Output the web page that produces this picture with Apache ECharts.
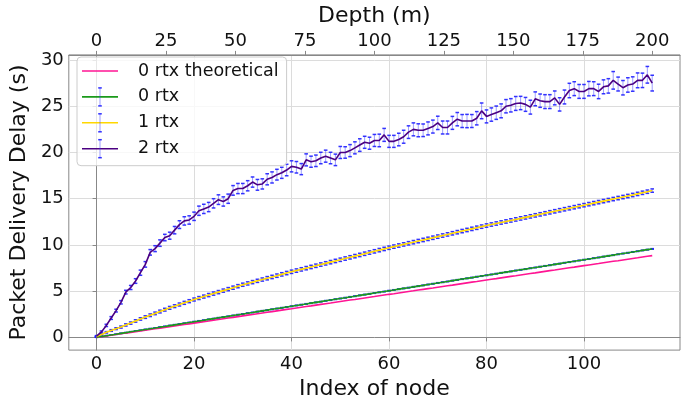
<!DOCTYPE html>
<html><head><meta charset="utf-8">
<script src="https://cdn.jsdelivr.net/npm/echarts@6/dist/echarts.min.js"></script>
<style>html,body{margin:0;padding:0;background:#fff}#c{width:696px;height:405px}</style>
</head><body><div id="c"></div>
<script>
// ---- data ----
const seriesNames = ['0 rtx theoretical', '0 rtx', '1 rtx', '2 rtx'];
const indexTicks = [0, 20, 40, 60, 80, 100];
const depthTicks = [0, 25, 50, 75, 100, 125, 150, 175, 200];
const delayTicks = [0, 5, 10, 15, 20, 25, 30];

const delayTheory = [0,0.08,0.16,0.23,0.31,0.39,0.47,0.54,0.62,0.70,0.78,0.85,0.93,1.01,1.09,1.16,1.24,1.32,1.40,1.47,1.55,1.63,1.71,1.78,1.86,1.94,2.02,2.10,2.17,2.25,2.33,2.41,2.48,2.56,2.64,2.72,2.79,2.87,2.95,3.03,3.10,3.18,3.26,3.34,3.41,3.49,3.57,3.65,3.72,3.80,3.88,3.96,4.04,4.11,4.19,4.27,4.35,4.42,4.50,4.58,4.66,4.73,4.81,4.89,4.97,5.04,5.12,5.20,5.28,5.35,5.43,5.51,5.59,5.66,5.74,5.82,5.90,5.98,6.05,6.13,6.21,6.29,6.36,6.44,6.52,6.60,6.67,6.75,6.83,6.91,6.98,7.06,7.14,7.22,7.29,7.37,7.45,7.53,7.60,7.68,7.76,7.84,7.92,7.99,8.07,8.15,8.23,8.30,8.38,8.46,8.54,8.61,8.69,8.77,8.85];

const delay0 = [0.02,0.10,0.19,0.27,0.35,0.44,0.52,0.61,0.69,0.77,0.86,0.94,1.02,1.11,1.19,1.28,1.36,1.44,1.53,1.61,1.70,1.78,1.86,1.95,2.03,2.12,2.20,2.28,2.37,2.45,2.53,2.62,2.70,2.79,2.87,2.95,3.04,3.12,3.20,3.29,3.37,3.46,3.54,3.62,3.71,3.79,3.87,3.96,4.04,4.13,4.21,4.29,4.38,4.46,4.55,4.63,4.71,4.80,4.88,4.96,5.05,5.13,5.22,5.30,5.38,5.47,5.55,5.63,5.72,5.80,5.89,5.97,6.05,6.14,6.22,6.31,6.39,6.47,6.56,6.64,6.72,6.81,6.89,6.98,7.06,7.14,7.23,7.31,7.39,7.48,7.56,7.65,7.73,7.81,7.90,7.98,8.07,8.15,8.23,8.32,8.40,8.48,8.57,8.65,8.74,8.82,8.90,8.99,9.07,9.15,9.24,9.32,9.41,9.49,9.57];
const err0 = [0.01,0.01,0.02,0.02,0.02,0.02,0.02,0.02,0.02,0.02,0.03,0.03,0.03,0.03,0.03,0.03,0.03,0.03,0.03,0.03,0.03,0.03,0.03,0.03,0.03,0.03,0.03,0.03,0.03,0.03,0.03,0.03,0.03,0.03,0.03,0.03,0.03,0.03,0.03,0.03,0.03,0.03,0.03,0.03,0.03,0.03,0.03,0.03,0.03,0.03,0.03,0.03,0.03,0.03,0.03,0.03,0.03,0.03,0.03,0.03,0.03,0.03,0.03,0.03,0.03,0.03,0.03,0.03,0.03,0.03,0.03,0.03,0.03,0.03,0.03,0.03,0.03,0.03,0.03,0.03,0.03,0.03,0.03,0.03,0.03,0.03,0.03,0.03,0.03,0.03,0.03,0.03,0.03,0.03,0.03,0.03,0.03,0.03,0.03,0.03,0.03,0.03,0.03,0.03,0.03,0.03,0.03,0.03,0.03,0.03,0.03,0.03,0.03,0.03,0.03];

const delay1 = [0.10,0.32,0.55,0.75,0.95,1.12,1.35,1.55,1.78,2.00,2.20,2.40,2.60,2.80,3.00,3.20,3.38,3.56,3.74,3.92,4.10,4.26,4.42,4.58,4.74,4.90,5.06,5.22,5.38,5.54,5.70,5.84,5.98,6.12,6.26,6.40,6.54,6.68,6.82,6.96,7.10,7.23,7.36,7.49,7.62,7.75,7.88,8.01,8.14,8.27,8.40,8.53,8.66,8.79,8.92,9.05,9.18,9.31,9.44,9.57,9.70,9.82,9.94,10.06,10.18,10.30,10.42,10.54,10.66,10.78,10.90,11.02,11.14,11.26,11.38,11.50,11.62,11.74,11.86,11.98,12.10,12.21,12.32,12.43,12.54,12.65,12.76,12.87,12.98,13.09,13.20,13.31,13.42,13.53,13.64,13.75,13.86,13.97,14.08,14.19,14.30,14.41,14.52,14.63,14.74,14.85,14.96,15.07,15.18,15.29,15.40,15.52,15.64,15.76,15.88];
const err1 = [0.04,0.06,0.08,0.09,0.10,0.11,0.12,0.12,0.13,0.13,0.14,0.14,0.14,0.15,0.15,0.15,0.15,0.16,0.16,0.16,0.16,0.16,0.16,0.17,0.17,0.17,0.17,0.17,0.17,0.17,0.17,0.17,0.17,0.17,0.17,0.18,0.18,0.18,0.18,0.18,0.18,0.18,0.18,0.18,0.18,0.18,0.18,0.18,0.18,0.18,0.18,0.18,0.18,0.18,0.18,0.18,0.18,0.18,0.18,0.18,0.18,0.18,0.18,0.18,0.18,0.18,0.18,0.18,0.18,0.18,0.18,0.18,0.18,0.18,0.18,0.18,0.18,0.18,0.18,0.18,0.18,0.18,0.18,0.18,0.18,0.18,0.18,0.18,0.18,0.18,0.18,0.18,0.18,0.18,0.18,0.18,0.18,0.18,0.18,0.18,0.18,0.18,0.18,0.18,0.18,0.18,0.18,0.18,0.18,0.18,0.18,0.18,0.18,0.18,0.18];

const delay2 = [0.15,0.6,1.3,2.1,2.9,3.8,4.9,5.4,6.1,7.0,7.9,9.2,9.6,10.2,10.8,11.0,11.6,12.2,12.6,12.7,13.1,13.7,13.9,14.1,14.5,14.9,14.7,15.0,15.9,
  16.1,16.1,16.4,16.8,16.5,16.6,17.1,17.3,17.6,17.8,18.1,18.5,18.4,18.2,19.2,19.0,19.1,19.4,19.6,19.4,19.2,20.0,20.0,20.2,20.5,20.8,21.1,
  21.0,21.3,21.3,21.9,21.2,21.2,21.4,21.7,22.2,22.5,22.4,22.4,22.6,22.8,23.2,22.7,22.7,23.2,23.6,23.4,23.4,23.4,23.7,24.5,23.9,24.1,24.3,24.5,25.0,
  25.1,25.3,25.35,25.2,24.9,25.8,25.6,25.5,25.5,25.9,25.2,26.0,26.7,26.9,26.6,26.6,26.9,26.9,26.6,27.1,27.2,27.8,27.4,27.0,27.3,27.4,27.8,27.8,28.4,27.5];
const err2 = [0.05,0.1,0.12,0.15,0.15,0.18,0.2,0.22,0.25,0.28,
  0.3,0.3,0.32,0.35,0.35,0.38,0.4,0.42,0.45,0.45,
  0.45,0.5,0.5,0.5,0.5,0.52,0.5,0.5,0.52,0.55,
  0.55,0.55,0.55,0.58,0.55,0.6,0.6,0.58,0.6,0.62,
  0.6,0.62,0.6,0.65,0.6,0.62,0.62,0.65,0.62,0.62,
  0.65,0.62,0.65,0.65,0.68,0.65,0.65,0.65,0.68,0.7,
  0.65,0.65,0.68,0.7,0.68,0.7,0.7,0.68,0.7,0.7,
  0.72,0.7,0.7,0.7,0.72,0.7,0.72,0.7,0.72,0.85,
  0.7,0.72,0.72,0.75,0.72,0.72,0.75,0.72,0.75,0.75,
  0.75,0.72,0.75,0.75,0.75,0.72,0.75,0.78,0.75,0.75,
  0.75,0.78,0.75,0.78,0.75,0.78,0.95,0.75,0.78,0.78,
  0.78,0.8,0.78,0.9,0.85];

const nodeIndex = delay2.map((_, i) => i);
const maxDepth = 200;   // depth of last node (m)

// ---- chart ----
const FONT = 'DejaVu Sans';
const TXT = '#111';
const colors = ['#ff1493', '#1a9a1a', '#ffd700', '#4b0082'];
const pair = (vals) => nodeIndex.map((x, i) => [x, vals[i]]);
const errData = (vals, errs) => nodeIndex.map((x, i) => [x, vals[i] - errs[i], vals[i] + errs[i]]);
const BAR = 'rgba(60,60,255,0.5)', CAP = 'rgba(30,30,255,0.9)';

function errRender(params, api) {
  const x = api.value(0);
  const lo = api.coord([x, api.value(1)]);
  const hi = api.coord([x, api.value(2)]);
  const cw = 1.8;
  return {
    type: 'group',
    children: [
      { type: 'line', shape: { x1: lo[0], y1: lo[1], x2: hi[0], y2: hi[1] }, style: { stroke: BAR, lineWidth: 1 } },
      { type: 'line', shape: { x1: lo[0] - cw, y1: lo[1], x2: lo[0] + cw, y2: lo[1] }, style: { stroke: CAP, lineWidth: 1.5 } },
      { type: 'line', shape: { x1: hi[0] - cw, y1: hi[1], x2: hi[0] + cw, y2: hi[1] }, style: { stroke: CAP, lineWidth: 1.5 } }
    ]
  };
}

const xMin = -5.7, xMax = 119.7;
const depthPerNode = maxDepth / (nodeIndex.length - 1);

const tickLabel = { fontFamily: FONT, fontSize: 18, color: TXT };
const nameStyle = { fontFamily: FONT, fontSize: 22, color: TXT };
const axisLine = { show: true, lineStyle: { color: '#888', width: 1 } };

// legend error-bar glyphs (decoration of the legend keys)
const legendGlyphs = [];
[1, 2, 3].forEach(k => {
  const cy = 71 + k * 25.9, cx = 100;
  legendGlyphs.push(
    { type: 'line', z: 100, zlevel: 1, silent: true, shape: { x1: cx, y1: cy - 9, x2: cx, y2: cy + 9 }, style: { stroke: BAR, lineWidth: 1 } },
    { type: 'line', z: 100, zlevel: 1, silent: true, shape: { x1: cx - 1.8, y1: cy - 9, x2: cx + 1.8, y2: cy - 9 }, style: { stroke: CAP, lineWidth: 1.5 } },
    { type: 'line', z: 100, zlevel: 1, silent: true, shape: { x1: cx - 1.8, y1: cy + 9, x2: cx + 1.8, y2: cy + 9 }, style: { stroke: CAP, lineWidth: 1.5 } }
  );
});

const chart = echarts.init(document.getElementById('c'), null, { renderer: 'canvas' });
chart.setOption({
  animation: false,
  backgroundColor: '#fff',
  grid: { left: 67, right: 16, top: 48, bottom: 53, show: true, borderColor: '#888', borderWidth: 1, containLabel: false },
  xAxis: [
    {
      type: 'value', min: xMin, max: xMax, position: 'bottom',
      name: 'Index of node', nameLocation: 'middle', nameGap: 24, nameTextStyle: nameStyle,
      axisLine: axisLine,
      axisTick: { show: true, inside: false, length: 4, lineStyle: { color: '#888' }, customValues: indexTicks },
      axisLabel: Object.assign({ margin: 5, customValues: indexTicks }, tickLabel),
      splitLine: { show: true, lineStyle: { color: '#dcdcdc', width: 1 } }
    },
    {
      type: 'value', min: xMin * depthPerNode, max: xMax * depthPerNode, position: 'top',
      name: 'Depth (m)', nameLocation: 'middle', nameGap: 22, nameTextStyle: nameStyle,
      axisLine: axisLine,
      axisTick: { show: true, inside: false, length: 4, lineStyle: { color: '#888' }, customValues: depthTicks },
      axisLabel: Object.assign({ margin: 5, customValues: depthTicks }, tickLabel),
      splitLine: { show: false }
    }
  ],
  yAxis: {
    type: 'value', min: -1.37, max: 30.55,
    name: 'Packet Delivery Delay (s)', nameLocation: 'middle', nameGap: 27, nameTextStyle: nameStyle,
    axisLine: axisLine,
    axisTick: { show: true, inside: false, length: 4, lineStyle: { color: '#888' }, customValues: delayTicks },
    axisLabel: Object.assign({ margin: 5, customValues: delayTicks }, tickLabel),
    splitLine: { show: true, lineStyle: { color: '#dcdcdc', width: 1 } }
  },
  legend: {
    data: seriesNames, left: 77, top: 57, orient: 'vertical',
    icon: 'rect', itemWidth: 36, itemHeight: 1.6, itemGap: 5.9,
    padding: [4, 8, 7, 5],
    backgroundColor: 'rgba(255,255,255,0.8)', borderColor: '#cccccc', borderWidth: 1, borderRadius: 4,
    selectedMode: false,
    textStyle: { fontFamily: FONT, fontSize: 17.5, color: TXT, lineHeight: 20, padding: [0, 0, 0, 15] },
    z: 10
  },
  series: [
    { type: 'custom', name: 'err0', renderItem: errRender, data: errData(delay0, err0), z: 2, clip: true, silent: true },
    { type: 'custom', name: 'err1', renderItem: errRender, data: errData(delay1, err1), z: 2, clip: true, silent: true },
    { type: 'custom', name: 'err2', renderItem: errRender, data: errData(delay2, err2), z: 2, clip: true, silent: true },
    { type: 'line', name: seriesNames[0], data: pair(delayTheory), color: colors[0], symbol: 'none', lineStyle: { width: 1.6, color: colors[0] }, z: 3 },
    { type: 'line', name: seriesNames[1], data: pair(delay0), color: colors[1], symbol: 'none', lineStyle: { width: 1.6, color: colors[1] }, z: 3 },
    { type: 'line', name: seriesNames[2], data: pair(delay1), color: colors[2], symbol: 'none', lineStyle: { width: 1.6, color: colors[2] }, z: 3 },
    { type: 'line', name: seriesNames[3], data: pair(delay2), color: colors[3], symbol: 'none', lineStyle: { width: 1.6, color: colors[3] }, z: 3 }
  ],
  graphic: { elements: legendGlyphs }
});
</script>
</body></html>
